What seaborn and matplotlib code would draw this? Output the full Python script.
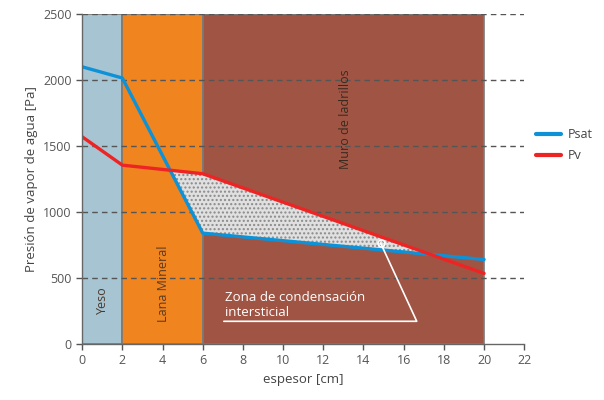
import matplotlib
matplotlib.use("Agg")
import matplotlib.pyplot as plt
import seaborn as sns
import pandas as pd
import numpy as np
from matplotlib.lines import Line2D

# Data
espesor = [0, 2, 6, 20]
psat = [2100, 2015, 840, 640]
pv = [1570, 1355, 1290, 535]
capas = ["Yeso", "Lana Mineral", "Muro de ladrillos"]
capa_limites = [(0, 2), (2, 6), (6, 20)]
capa_colores = ["#a7c4d2", "#f0841f", "#a05443"]
x_ticks = [0, 2, 4, 6, 8, 10, 12, 14, 16, 18, 20, 22]
y_ticks = [0, 500, 1000, 1500, 2000, 2500]

sns.set_theme(style="white")
plt.rcParams['font.family'] = ['Open Sans', 'DejaVu Sans']

fig = plt.figure(figsize=(6.04, 4.0), dpi=100)
ax = fig.add_axes([0.136, 0.14, 0.732, 0.825])

# layer rectangles
for (a, b), c in zip(capa_limites, capa_colores):
    ax.axvspan(a, b, ymin=0, ymax=1, facecolor=c, edgecolor="#7a7a7a", linewidth=1.2, zorder=1)

# grid
for yv in y_ticks[1:]:
    ax.axhline(yv, color="#555555", linestyle=(0, (4, 3)), linewidth=1.0, zorder=2)

# condensation zone
ax.fill_between(espesor, psat, pv, where=np.array(pv) > np.array(psat), interpolate=True,
                facecolor="#e0e0e0", edgecolor="#8a8a8a", hatch="....", linewidth=0, zorder=3)

df = pd.DataFrame({
    "espesor": espesor * 2,
    "valor": psat + pv,
    "serie": ["Psat"] * len(psat) + ["Pv"] * len(pv),
})
sns.lineplot(data=df, x="espesor", y="valor", hue="serie", hue_order=["Psat", "Pv"],
             palette={"Psat": "#0d92d8", "Pv": "#ee2424"}, linewidth=2.4, ax=ax, zorder=4,
             legend=False)

# layer labels
ax.text(1.0, 330, "Yeso", rotation=90, ha="center", va="center", fontsize=9, color="#4a3a30", zorder=5)
ax.text(4.05, 455, "Lana Mineral", rotation=90, ha="center", va="center", fontsize=9, color="#5a3a20", zorder=5)
ax.text(13.1, 1705, "Muro de ladrillos", rotation=90, ha="center", va="center", fontsize=9, color="#3a2a20", zorder=5)

# annotation
ax.text(7.1, 355, "Zona de condensación", ha="left", va="center", fontsize=9.5, color="white", zorder=5)
ax.text(7.1, 240, "intersticial", ha="left", va="center", fontsize=9.5, color="white", zorder=5)
ax.plot([7.05, 16.65, 14.85], [172, 172, 765], color="white", linewidth=1.2, zorder=5)
ax.plot([14.85], [765], marker="o", markersize=5, markerfacecolor="none", markeredgecolor="white",
        markeredgewidth=1.0, zorder=5)

ax.set_xlim(0, 22)
ax.set_ylim(0, 2500)
ax.set_xticks(x_ticks)
ax.set_yticks(y_ticks)
ax.tick_params(axis="both", which="major", direction="out", length=4, width=1, color="#555555",
               labelsize=9, labelcolor="#555555", bottom=True, left=True)
for s in ["top", "right"]:
    ax.spines[s].set_visible(False)
for s in ["left", "bottom"]:
    ax.spines[s].set_color("#666666")
    ax.spines[s].set_linewidth(1.0)
    ax.spines[s].set_zorder(6)
ax.set_xlabel("espesor [cm]", fontsize=9.5, color="#444444")
ax.set_ylabel("Presión de vapor de agua [Pa]", fontsize=9.5, color="#444444")

handles = [Line2D([], [], color="#0d92d8", linewidth=3), Line2D([], [], color="#ee2424", linewidth=3)]
fig.legend(handles, ["Psat", "Pv"], loc="upper left", bbox_to_anchor=(0.888, 0.68), frameon=False,
           fontsize=9, handlelength=2.0, handletextpad=0.5, labelspacing=0.65, borderpad=0,
           borderaxespad=0, labelcolor="#444444")

fig.savefig("out.png", dpi=100)
